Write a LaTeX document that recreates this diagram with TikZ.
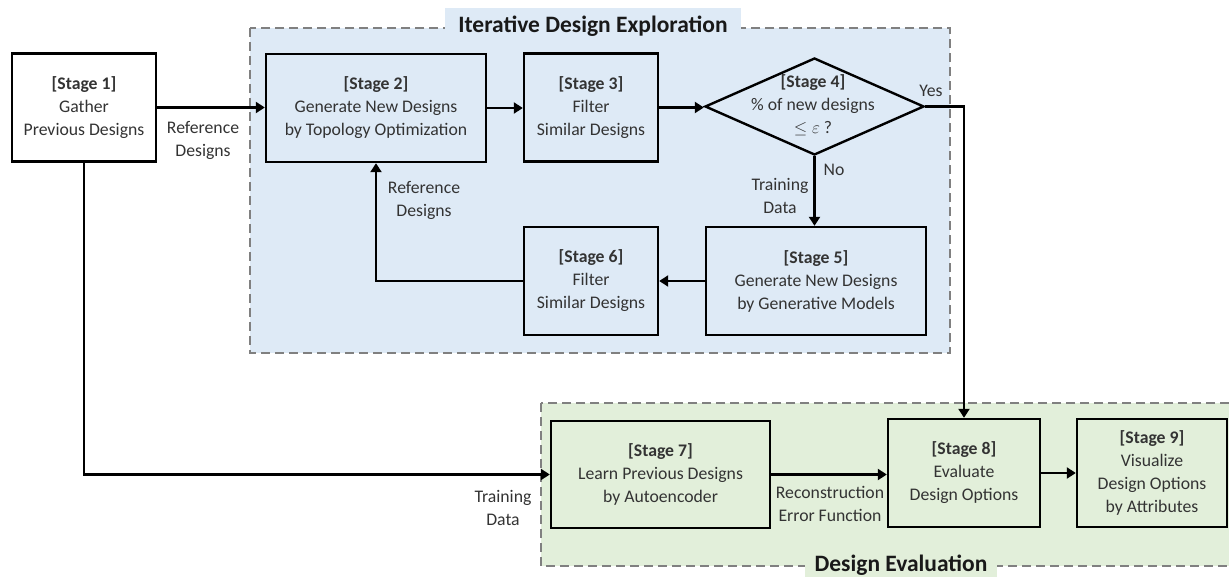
\documentclass[tikz,border=0pt]{standalone}
\usepackage{fontspec}
\setmainfont{Carlito}
\usetikzlibrary{arrows.meta,shapes.geometric}
\definecolor{bluefill}{HTML}{DEEAF6}
\definecolor{greenfill}{HTML}{E2EFDA}
\definecolor{txt}{HTML}{333333}
\definecolor{dashgray}{HTML}{808080}
\begin{document}
\begin{tikzpicture}[x=1pt,y=-1pt,
  stagebox/.style={draw=black, line width=2.4pt, minimum height=108pt, align=center, text=txt,
    font=\fontsize{17.7}{23}\selectfont, inner sep=0pt},
  conn/.style={line width=2.4pt, -{Triangle[length=9pt,width=11pt]}},
  lbl/.style={align=center, text=txt, font=\fontsize{17.7}{23}\selectfont, inner sep=0pt},
  region/.style={draw=dashgray, line width=2pt, dash pattern=on 9pt off 5pt},
  regiontitle/.style={font=\fontsize{23.5}{28}\selectfont\bfseries, text=black!90, inner sep=0pt}
]
\useasboundingbox (0,0) rectangle (1229,577);

% regions
\fill[bluefill] (250,28) rectangle (950,353);
\draw[region] (250,28) rectangle (950,353);
\node[regiontitle, fill=bluefill, minimum width=296pt, minimum height=36pt] (t1) at (593,26) {Iterative Design Exploration};

\fill[greenfill] (541,403) rectangle (1240,566);
\draw[region] (541,403) rectangle (1240,566);
\node[regiontitle, fill=greenfill, minimum width=192pt, minimum height=30pt] (t2) at (901,565) {Design Evaluation};

% stages
\node[stagebox, fill=white, minimum width=144pt] (s1) at (84,107.5)
  {\textbf{[Stage 1]}\\Gather\\Previous Designs};
\node[stagebox, fill=bluefill, minimum width=220pt] (s2) at (376,108)
  {\textbf{[Stage 2]}\\Generate New Designs\\by Topology Optimization};
\node[stagebox, fill=bluefill, minimum width=134pt] (s3) at (591,107.5)
  {\textbf{[Stage 3]}\\Filter\\Similar Designs};
\node[diamond, draw=black, line width=2.4pt, fill=bluefill, inner sep=0pt,
  minimum width=219pt, minimum height=97pt] (s4) at (814.5,106.5) {};
\node[lbl] (s4t) at (813,105) {\textbf{[Stage 4]}\\\% of new designs\\$\leq \varepsilon$ ?};
\node[stagebox, fill=bluefill, minimum width=220pt] (s5) at (816,281)
  {\textbf{[Stage 5]}\\Generate New Designs\\by Generative Models};
\node[stagebox, fill=bluefill, minimum width=134pt] (s6) at (591,281)
  {\textbf{[Stage 6]}\\Filter\\Similar Designs};
\node[stagebox, fill=greenfill, minimum width=219pt, minimum height=107pt] (s7) at (660.5,474.5)
  {\textbf{[Stage 7]}\\Learn Previous Designs\\by Autoencoder};
\node[stagebox, fill=greenfill, minimum width=152pt] (s8) at (964,473)
  {\textbf{[Stage 8]}\\Evaluate\\Design Options};
\node[stagebox, fill=greenfill, minimum width=150pt] (s9) at (1152,473)
  {\textbf{[Stage 9]}\\Visualize\\Design Options\\by Attributes};

% connectors
\draw[conn] (s1.east) -- (s1.east -| s2.west);
\draw[conn] (s1.south) |- (s7.west);
\draw[conn] (s2.east) -- (s2.east -| s3.west);
\draw[conn] (s3.east) -- (s3.east -| s4.west);
\draw[conn] (s4.east) -| (s8.north);
\draw[conn] (s4.south) -- (s4.south |- s5.north);
\draw[conn] (s5.west) -- (s5.west -| s6.east);
\draw[conn] (s6.west) -| (s2.south);
\draw[conn] (s7.east) -- (s7.east -| s8.west);
\draw[conn] (s8.east) -- (s8.east -| s9.west);

% labels
\node[lbl] (l1) at (203,140) {Reference\\Designs};
\node[lbl] (l2) at (503,508) {Training\\Data};
\node[lbl] (l3) at (931,91) {Yes};
\node[lbl] (l4) at (834,170) {No};
\node[lbl] (l5) at (780,196) {Training\\Data};
\node[lbl] (l6) at (424,200) {Reference\\Designs};
\node[lbl] (l7) at (830,504) {Reconstruction\\Error Function};
\end{tikzpicture}
\end{document}
